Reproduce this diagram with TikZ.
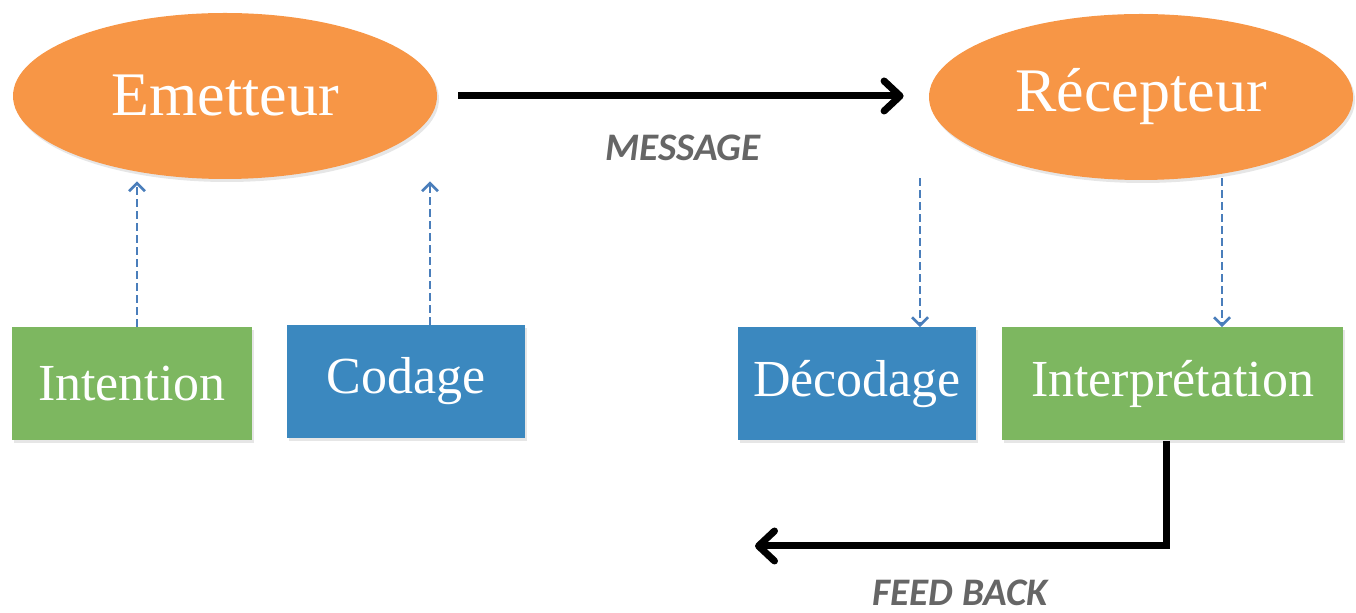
\documentclass[tikz,border=0pt]{standalone}
\usepackage{fontspec}
\setmainfont{Liberation Serif}
\newfontfamily\labelfont{Carlito}
\usetikzlibrary{shapes.geometric}
\usetikzlibrary{arrows.meta}
\usetikzlibrary{shadows}
\definecolor{com-orange}{HTML}{F79646}
\definecolor{com-green}{HTML}{7DB760}
\definecolor{com-blue}{HTML}{3B88BF}
\definecolor{com-dash}{HTML}{4A7EBB}
\definecolor{com-grey}{HTML}{666666}
\begin{document}
\begin{tikzpicture}[x=0.5pt, y=0.5pt,
  actor/.style={ellipse, fill=com-orange, text=white, minimum width=212pt, minimum height=83pt, inner sep=0pt, font=\fontsize{31pt}{36pt}\selectfont, drop shadow={opacity=0.2, shadow xshift=1pt, shadow yshift=-1.5pt}},
  task/.style={rectangle, text=white, minimum height=56.5pt, inner sep=0pt, font=\fontsize{26pt}{30pt}\selectfont, drop shadow={opacity=0.2, shadow xshift=1pt, shadow yshift=-1.5pt}},
  flow/.style={line width=3.5pt, -{Straight Barb[round, length=8pt, width=15pt]}},
  hint/.style={com-dash, line width=1.3pt, dash pattern=on 4pt off 2pt, -{Straight Barb[length=4pt, width=8pt]}},
  caption/.style={text=com-grey, font=\labelfont\bfseries\itshape\fontsize{19.5pt}{22pt}\selectfont}]
\useasboundingbox (0,0) rectangle (1356,-613);
% sender and receiver
\node[actor] (emetteur) at (225,-96) {Emetteur};
\node[actor] (recepteur) at (1141,-97) {Récepteur};
% steps
\node[task, fill=com-green, minimum width=120pt] (intention) at (132,-383.5) {Intention};
\node[task, fill=com-blue, minimum width=119pt] (codage) at (406,-381.5) {Codage};
\node[task, fill=com-blue, minimum width=119pt] (decodage) at (857,-384) {Décodage};
\node[task, fill=com-green, minimum width=170.5pt] (interpretation) at (1172.5,-384) {Interprétation};
\coordinate (retour) at (755,-546);
% message and feedback
\draw[flow, shorten <=10.5pt, shorten >=12.5pt] (emetteur.east) -- (emetteur.east -| recepteur.west) node[midway, below=14.5pt, caption] {MESSAGE};
\draw[flow] ([xshift=-3.25pt]interpretation.south) |- (retour) node[pos=0.75, below=12pt, caption] {FEED BACK};
% dashed links
\draw[hint, shorten >=1pt] ([xshift=2.5pt]intention.north) -- ([xshift=2.5pt]intention.north |- emetteur.south);
\draw[hint, shorten >=1pt] ([xshift=12pt]codage.north) -- ([xshift=12pt]codage.north |- emetteur.south);
\draw[hint, shorten <=-1pt] ([xshift=31.5pt]decodage.north |- recepteur.south) -- ([xshift=31.5pt]decodage.north);
\draw[hint, shorten <=-1pt] ([xshift=24.75pt]interpretation.north |- recepteur.south) -- ([xshift=24.75pt]interpretation.north);
\end{tikzpicture}
\end{document}
